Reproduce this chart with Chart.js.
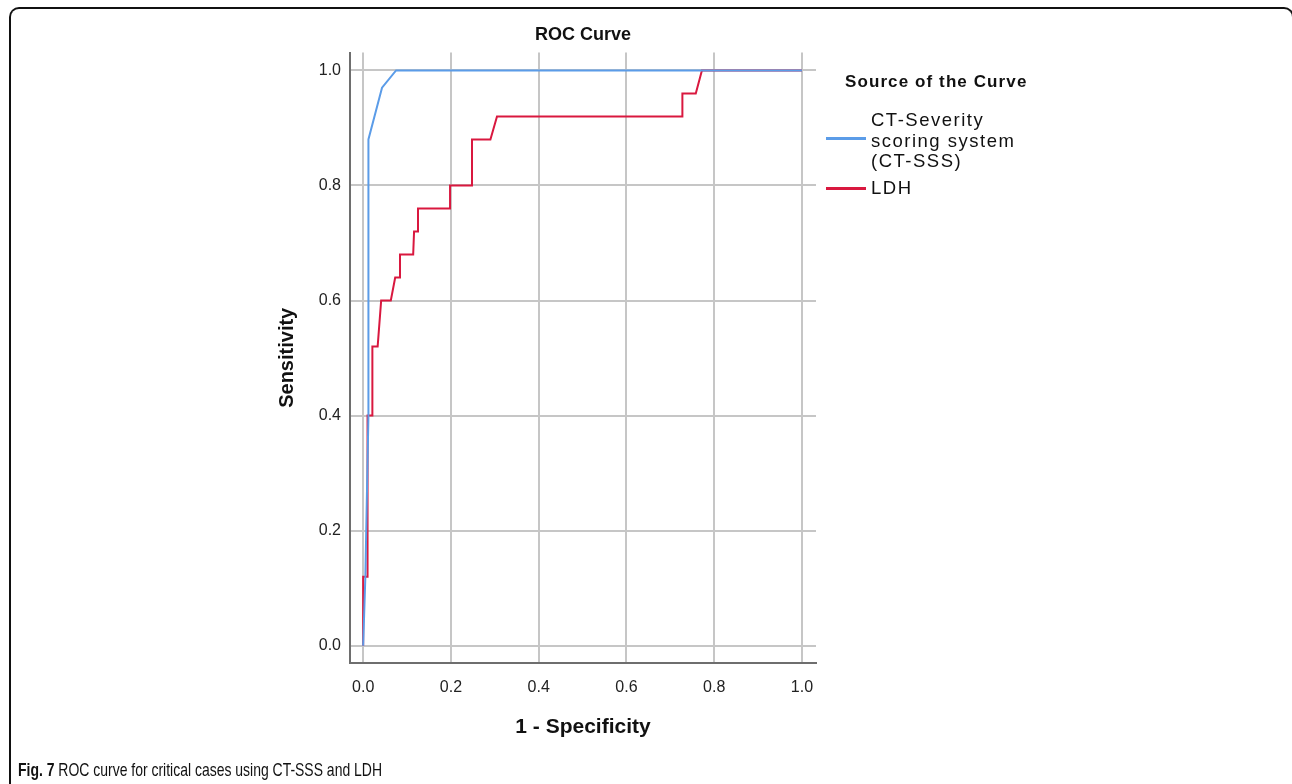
<!DOCTYPE html>
<html>
<head>
<meta charset="utf-8">
<script src="https://cdn.jsdelivr.net/npm/chart.js@4"></script>
<style>
  html, body { margin: 0; padding: 0; background: #fff; }
  body { width: 1292px; height: 784px; position: relative; overflow: hidden; font-family: "Liberation Sans", Arial, sans-serif; }
  #frame { position: absolute; left: 9px; top: 7px; width: 1285px; height: 800px; border-top: 2px solid #111; border-left: 2px solid #111; border-right: 2px solid #111; border-radius: 10px 10px 0 0; box-sizing: border-box; }
  #wrap { position: absolute; left: 0; top: 0; width: 1292px; height: 784px; }
  .legend { position: absolute; color: #111; }
  #legTitle { left: 845px; top: 72px; font-weight: bold; font-size: 17px; letter-spacing: 1.1px; }
  .legLine { position: absolute; height: 3px; width: 40px; left: 826px; }
  .legText { position: absolute; left: 871px; font-size: 18.5px; line-height: 20.5px; letter-spacing: 1.5px; color: #111; }
  #caption { position: absolute; left: 18px; top: 759px; font-family: "Liberation Sans", sans-serif; font-size: 19px; color: #111; white-space: nowrap; transform: scaleX(0.735); transform-origin: 0 0; }
</style>
</head>
<body>
<div id="frame"></div>
<div id="wrap"><canvas id="c" width="1292" height="784"></canvas></div>
<div id="legTitle" class="legend">Source of the Curve</div>
<div class="legLine" style="top:137px;background:#5b9ce8"></div>
<div class="legText" style="top:110px">CT-Severity<br>scoring system<br>(CT-SSS)</div>
<div class="legLine" style="top:187px;background:#d9183f"></div>
<div class="legText" style="top:178px">LDH</div>
<div id="caption"><b>Fig. 7</b> ROC curve for critical cases using CT-SSS and LDH</div>
<script>
// ---- data ----
const seriesNames = ["CT-Severity scoring system (CT-SSS)", "LDH"];
const ctFpr = [0, 0.005, 0.012, 0.012, 0.043, 0.075, 1.0];
const ctTpr = [0, 0.12, 0.40, 0.88, 0.97, 1.00, 1.00];
const ldhFpr = [0, 0, 0.010, 0.010, 0.021, 0.021, 0.033, 0.041, 0.063, 0.073, 0.084, 0.084, 0.114, 0.116, 0.125, 0.125, 0.198, 0.198, 0.248, 0.248, 0.290, 0.305, 0.7275, 0.7275, 0.758, 0.772, 1.0];
const ldhTpr = [0, 0.12, 0.12, 0.40, 0.40, 0.52, 0.52, 0.60, 0.60, 0.64, 0.64, 0.68, 0.68, 0.72, 0.72, 0.76, 0.76, 0.80, 0.80, 0.88, 0.88, 0.92, 0.92, 0.96, 0.96, 1.00, 1.00];
const tickValues = [0, 0.2, 0.4, 0.6, 0.8, 1.0];

const toPts = (xs, ys) => xs.map((x, i) => ({ x: x, y: ys[i] }));

const tickFont = { family: "Liberation Sans", size: 16 };
const gridCfg = { color: "#c6c6c6", lineWidth: 2, drawTicks: false };
const borderCfg = { color: "#6e6e6e", width: 2 };

new Chart(document.getElementById("c"), {
  type: "scatter",
  data: {
    datasets: [
      { label: seriesNames[0], data: toPts(ctFpr, ctTpr), showLine: true, borderColor: "#5b9ce8", borderWidth: 2, pointRadius: 0, tension: 0 },
      { label: seriesNames[1], data: toPts(ldhFpr, ldhTpr), showLine: true, borderColor: "#d9183f", borderWidth: 2, pointRadius: 0, tension: 0 }
    ]
  },
  options: {
    responsive: false,
    animation: false,
    layout: { padding: { left: 0, top: 0, right: 476, bottom: 0 } },
    plugins: {
      legend: { display: false },
      tooltip: { enabled: false },
      title: {
        display: true, text: "ROC Curve", fullSize: false, color: "#111",
        font: { family: "Liberation Sans", size: 18, weight: "bold" },
        padding: { top: 24, bottom: 7 }
      }
    },
    scales: {
      x: {
        type: "linear", min: -0.03, max: 1.032,
        afterBuildTicks: s => { s.ticks = tickValues.map(v => ({ value: v })); },
        afterFit: s => { s.height = 121; },
        ticks: { font: tickFont, color: "#222", padding: 15, callback: v => Number(v).toFixed(1) },
        grid: gridCfg, border: borderCfg,
        title: { display: true, text: "1 - Specificity", color: "#111", font: { family: "Liberation Sans", size: 21, weight: "bold" }, padding: { top: 0, bottom: 44 } }
      },
      y: {
        type: "linear", min: -0.03, max: 1.031,
        afterBuildTicks: s => { s.ticks = tickValues.map(v => ({ value: v })); },
        afterFit: s => { s.width = 350; },
        ticks: { font: tickFont, color: "#222", padding: 9, callback: v => Number(v).toFixed(1) },
        grid: gridCfg, border: borderCfg,
        title: { display: true, text: "Sensitivity", color: "#111", font: { family: "Liberation Sans", size: 20, weight: "bold" }, padding: { top: 275, bottom: 0 } }
      }
    }
  }
});
</script>
</body>
</html>
